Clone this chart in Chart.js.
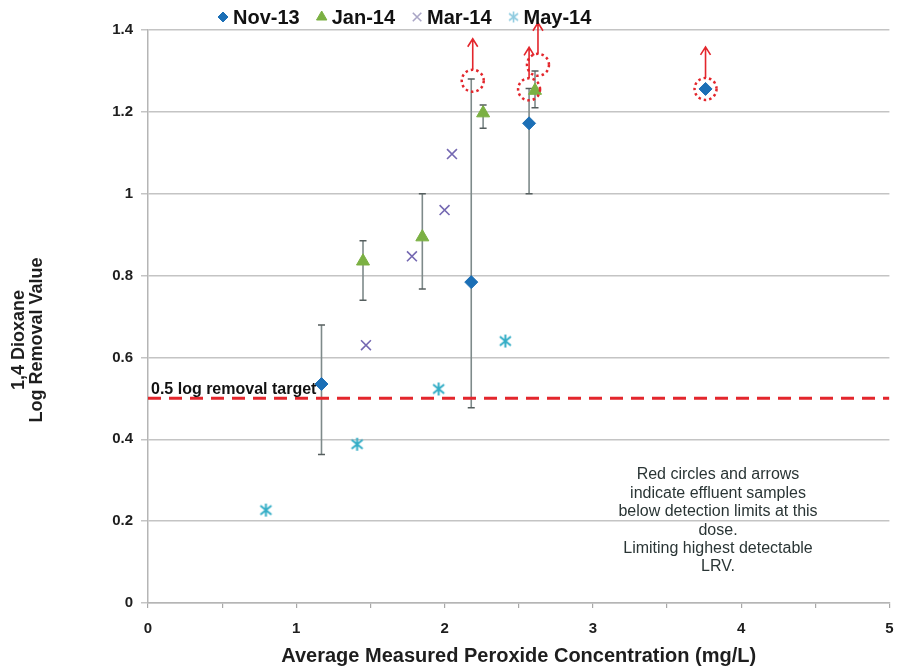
<!DOCTYPE html>
<html>
<head>
<meta charset="utf-8">
<script src="https://cdn.jsdelivr.net/npm/chart.js@4.4.1/dist/chart.umd.min.js"></script>
<style>
  html, body { margin: 0; padding: 0; background: #fff; }
</style>
</head>
<body>
<canvas id="myChart" width="898" height="668"></canvas>
<script>
// series labels
var seriesNames = ['Nov-13', 'Jan-14', 'Mar-14', 'May-14'];

// Nov-13 (with error bars, last one has none)
var nov13X  = [1.17, 2.18, 2.57, 3.76];
var nov13Y  = [0.535, 0.784, 1.172, 1.256];
var nov13Lo = [0.363, 0.477, 1.0, null];
var nov13Hi = [0.679, 1.28, 1.257, null];

// Jan-14
var jan14X  = [1.45, 1.85, 2.26, 2.61];
var jan14Y  = [0.835, 0.894, 1.197, 1.252];
var jan14Lo = [0.74, 0.767, 1.16, 1.21];
var jan14Hi = [0.885, 1.0, 1.217, 1.30];

// Mar-14
var mar14X = [1.47, 1.78, 2.0, 2.05];
var mar14Y = [0.63, 0.847, 0.96, 1.097];

// May-14
var may14X = [0.795, 1.41, 1.96, 2.41];
var may14Y = [0.227, 0.388, 0.523, 0.64];

// samples below detection limit (red circles + arrows)
var limitX = [2.19, 2.57, 2.63, 3.76];
var limitY = [1.276, 1.255, 1.315, 1.256];

// target line
var targetLRV = 0.5;
var targetLabel = '0.5 log removal target';

var noteLines = [
  'Red circles and arrows',
  'indicate effluent samples',
  'below detection limits at this',
  'dose.',
  'Limiting highest detectable',
  'LRV.'
];

var xTitle = 'Average Measured Peroxide Concentration (mg/L)';
var yTitle = ['1,4 Dioxane', 'Log Removal Value'];

var FONT = "'Liberation Sans', Arial, Helvetica, sans-serif";
Chart.defaults.font.family = FONT;

function pts(xs, ys) {
  var out = [];
  for (var i = 0; i < xs.length; i++) out.push({x: xs[i], y: ys[i]});
  return out;
}

// excel style star marker: an X with a vertical stroke
function starMarker(color, size, lw) {
  var c = document.createElement('canvas');
  c.width = size; c.height = size;
  var g = c.getContext('2d');
  var m = 2;
  g.strokeStyle = color;
  g.lineWidth = lw;
  g.beginPath();
  g.moveTo(m, m + 1); g.lineTo(size - m, size - m - 1);
  g.moveTo(size - m, m + 1); g.lineTo(m, size - m - 1);
  g.moveTo(size / 2, m - 1); g.lineTo(size / 2, size - m + 1);
  g.stroke();
  return c;
}

var blue = '#1b6fb6';
var green = '#7bb043';
var purple = '#7569b2';
var cyan = '#33adc6';
var red = '#e3262c';

var starImg = starMarker(cyan, 15, 2);
var starLegend = starMarker('#8fcbe0', 13, 1.6);

var errorBars = {
  id: 'errorBars',
  beforeDatasetsDraw: function(chart) {
    var ctx = chart.ctx, xs = chart.scales.x, ys = chart.scales.y;
    ctx.save();
    chart.data.datasets.forEach(function(ds) {
      if (!ds.errLo) return;
      ds.data.forEach(function(p, i) {
        if (ds.errLo[i] == null) return;
        var px = xs.getPixelForValue(p.x);
        var top = ys.getPixelForValue(ds.errHi[i]);
        var bot = ys.getPixelForValue(ds.errLo[i]);
        ctx.strokeStyle = '#7e8a8a';
        ctx.lineWidth = 1.6;
        ctx.beginPath();
        ctx.moveTo(px, top); ctx.lineTo(px, bot);
        ctx.stroke();
        ctx.strokeStyle = '#555e5e';
        ctx.lineWidth = 1.5;
        ctx.beginPath();
        ctx.moveTo(px - 3.5, top); ctx.lineTo(px + 3.5, top);
        ctx.moveTo(px - 3.5, bot); ctx.lineTo(px + 3.5, bot);
        ctx.stroke();
      });
    });
    ctx.restore();
  }
};

var extras = {
  id: 'extras',
  afterDatasetsDraw: function(chart) {
    var ctx = chart.ctx, xs = chart.scales.x, ys = chart.scales.y;
    var area = chart.chartArea;
    ctx.save();

    // target label
    ctx.fillStyle = '#111';
    ctx.font = 'bold 16px ' + FONT;
    ctx.textAlign = 'left';
    ctx.textBaseline = 'alphabetic';
    ctx.fillText(targetLabel, area.left + 3, ys.getPixelForValue(targetLRV) - 4);

    // detection limit circles and arrows
    for (var i = 0; i < limitX.length; i++) {
      var cx = xs.getPixelForValue(limitX[i]);
      var cy = ys.getPixelForValue(limitY[i]);
      var r = 11;
      ctx.strokeStyle = red;
      ctx.lineWidth = 2.5;
      ctx.setLineDash([2.5, 3]);
      ctx.beginPath();
      ctx.arc(cx, cy, r, 0, Math.PI * 2);
      ctx.stroke();
      ctx.setLineDash([]);
      ctx.lineWidth = 1.6;
      ctx.beginPath();
      ctx.moveTo(cx, cy - r);
      ctx.lineTo(cx, cy - r - 31);
      ctx.moveTo(cx - 5, cy - r - 23);
      ctx.lineTo(cx, cy - r - 31);
      ctx.lineTo(cx + 5, cy - r - 23);
      ctx.stroke();
    }

    // note text
    ctx.fillStyle = '#2a3535';
    ctx.font = '16px ' + FONT;
    ctx.textAlign = 'center';
    ctx.textBaseline = 'middle';
    noteLines.forEach(function(t, k) {
      ctx.fillText(t, 718, 475 + k * 18.4);
    });
    ctx.restore();
  },
  afterDraw: function(chart) {
    var ctx = chart.ctx;
    ctx.save();
    // y axis title (two lines, rotated)
    ctx.fillStyle = '#1e1e1e';
    ctx.font = 'bold 18px ' + FONT;
    ctx.textAlign = 'center';
    ctx.textBaseline = 'middle';
    yTitle.forEach(function(t, k) {
      ctx.save();
      ctx.translate(19 + k * 18.5, 340);
      ctx.rotate(-Math.PI / 2);
      ctx.fillText(t, 0, 0);
      ctx.restore();
    });

    // legend
    var x = 223, y = 17;
    ctx.font = 'bold 20px ' + FONT;
    ctx.textAlign = 'left';
    chart.data.datasets.forEach(function(ds) {
      if (!ds.inLegend) return;
      var style = ds.legendStyle || ds.pointStyle;
      ctx.fillStyle = ds.legendColor;
      ctx.strokeStyle = ds.legendColor;
      ctx.lineWidth = ds.borderWidth || 1;
      Chart.helpers.drawPoint(ctx, {
        pointStyle: style,
        radius: ds.legendRadius,
        borderWidth: ds.borderWidth || 1
      }, x, y);
      ctx.fillStyle = '#111';
      ctx.fillText(ds.label, x + 10, y + 1);
      x += 10 + ctx.measureText(ds.label).width + 22;
    });
    ctx.restore();
  }
};

var ctx = document.getElementById('myChart').getContext('2d');

new Chart(ctx, {
  type: 'scatter',
  data: {
    datasets: [
      {
        label: seriesNames[0],
        data: pts(nov13X, nov13Y),
        errLo: nov13Lo, errHi: nov13Hi,
        pointStyle: 'rectRot', pointRadius: 6.5,
        backgroundColor: blue, borderColor: blue, borderWidth: 1,
        inLegend: true, legendRadius: 5, legendColor: blue
      },
      {
        label: seriesNames[1],
        data: pts(jan14X, jan14Y),
        errLo: jan14Lo, errHi: jan14Hi,
        pointStyle: 'triangle', pointRadius: 7.5,
        backgroundColor: green, borderColor: green, borderWidth: 1,
        inLegend: true, legendRadius: 6, legendColor: green
      },
      {
        label: seriesNames[2],
        data: pts(mar14X, mar14Y),
        pointStyle: 'crossRot', pointRadius: 7,
        backgroundColor: purple, borderColor: purple, borderWidth: 1.6,
        inLegend: true, legendRadius: 6, legendColor: '#aaa6c6'
      },
      {
        label: seriesNames[3],
        data: pts(may14X, may14Y),
        pointStyle: starImg, legendStyle: starLegend,
        backgroundColor: cyan, borderColor: cyan,
        inLegend: true, legendRadius: 6, legendColor: '#8fcbe0'
      },
      {
        label: 'target',
        type: 'line',
        data: [{x: 0, y: targetLRV}, {x: 5, y: targetLRV}],
        borderColor: red, borderWidth: 3, borderDash: [13, 8],
        pointRadius: 0, fill: false
      }
    ]
  },
  options: {
    responsive: false,
    animation: false,
    devicePixelRatio: 1,
    layout: { padding: { top: 30, right: 0, left: 0, bottom: 0 } },
    plugins: {
      legend: { display: false },
      tooltip: { enabled: false }
    },
    scales: {
      x: {
        type: 'linear', min: 0, max: 5,
        afterFit: function(s) { s.height = 65; },
        ticks: {
          stepSize: 0.5, autoSkip: false, padding: 4,
          color: '#1e1e1e', font: { size: 15, weight: 'bold', lineHeight: 2.27 },
          callback: function(v) { return Number.isInteger(v) ? String(v) : ''; }
        },
        grid: { drawOnChartArea: false, color: '#a8a8a8', lineWidth: 1.2, tickLength: 5 },
        border: { color: '#b5b5b5', width: 1.5 },
        title: {
          display: true, text: xTitle, color: '#1e1e1e',
          font: { size: 20, weight: 'bold' }, padding: { top: 0, bottom: 0 }
        }
      },
      y: {
        min: 0, max: 1.4,
        afterFit: function(s) { s.width = 148; },
        ticks: {
          stepSize: 0.2, padding: 8,
          color: '#1e1e1e', font: { size: 15, weight: 'bold' },
          callback: function(v) { return String(Math.round(v * 10) / 10); }
        },
        grid: { color: '#c4c4c4', lineWidth: 1.5, tickLength: 7 },
        border: { color: '#b5b5b5', width: 1.5 }
      }
    }
  },
  plugins: [errorBars, extras]
});
</script>
</body>
</html>
